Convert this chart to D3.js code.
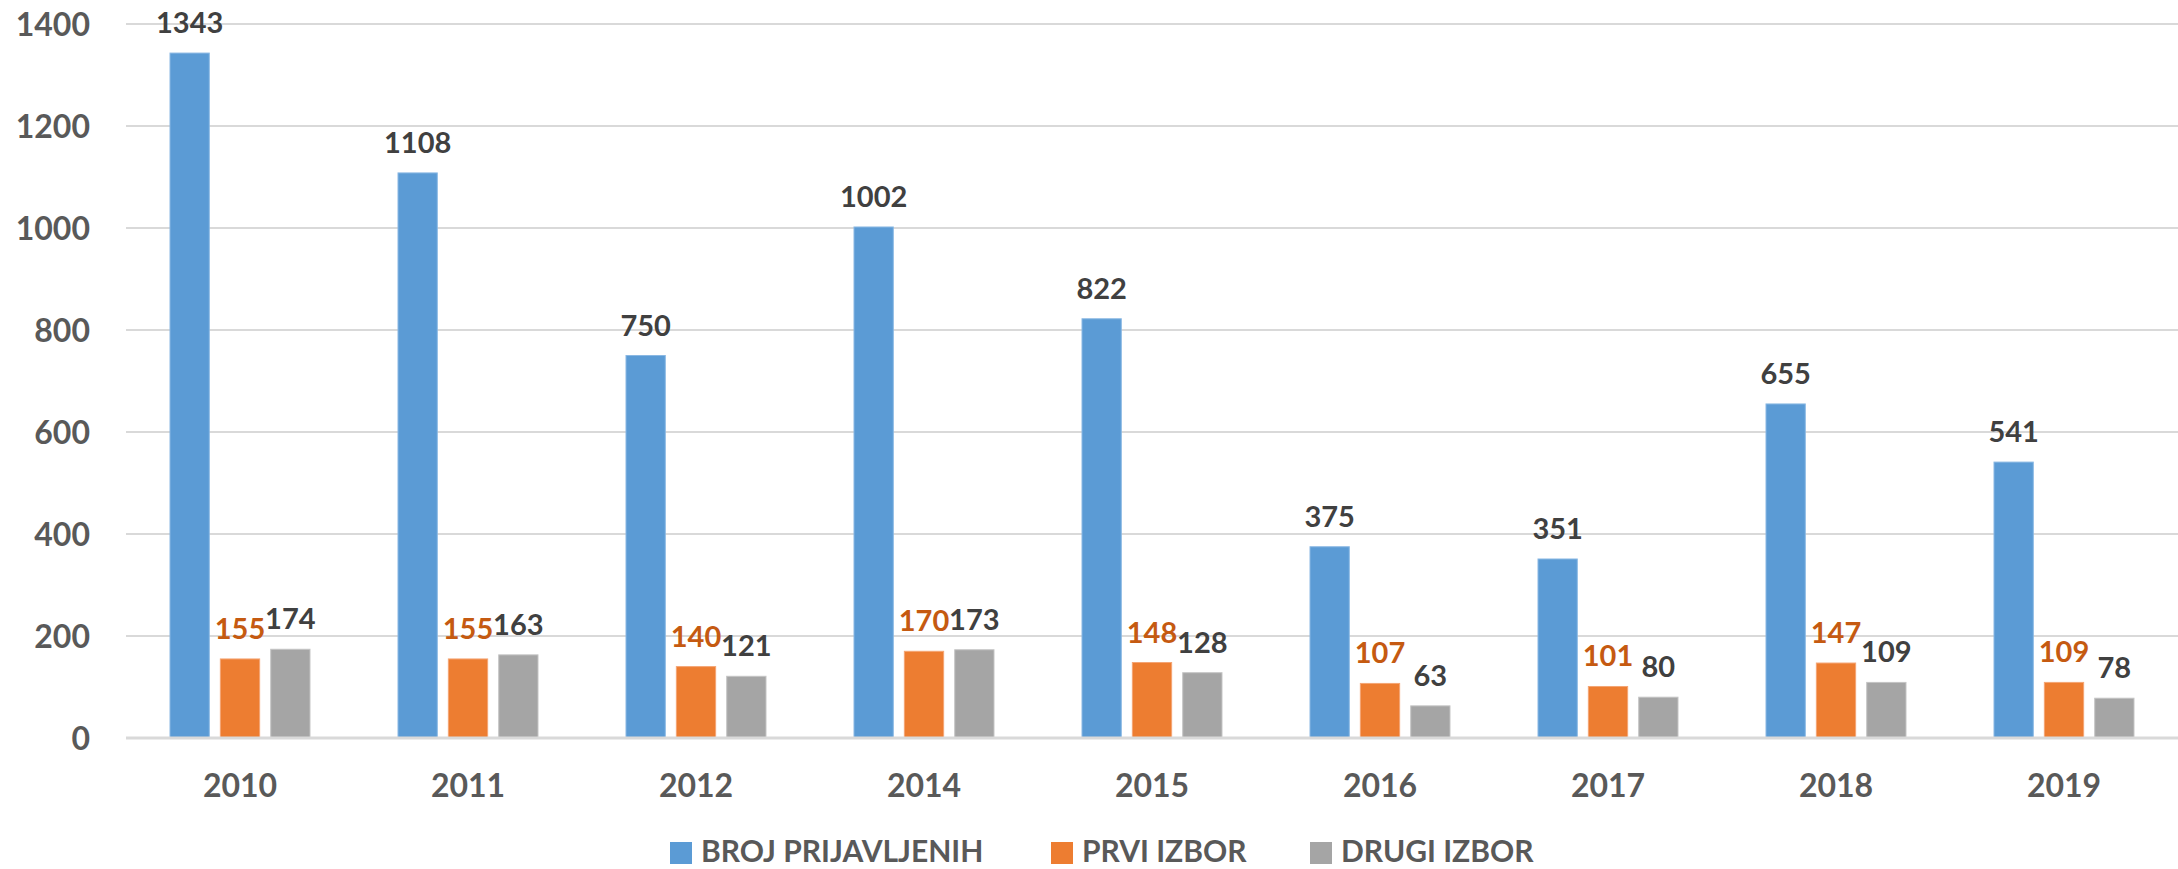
<!DOCTYPE html>
<html>
<head>
<meta charset="utf-8">
<script src="https://cdn.jsdelivr.net/npm/d3@7"></script>
<style>
  html, body { margin: 0; padding: 0; background: #fff; }
  svg { display: block; }
  text { font-family: Lato, "Open Sans", sans-serif; font-weight: bold; }
</style>
</head>
<body>
<svg id="chart" width="2178" height="869"></svg>
<script>
const categories = ["2010", "2011", "2012", "2014", "2015", "2016", "2017", "2018", "2019"];
const seriesNames = ["BROJ PRIJAVLJENIH", "PRVI IZBOR", "DRUGI IZBOR"];
const brojPrijavljenih = [1343, 1108, 750, 1002, 822, 375, 351, 655, 541];
const prviIzbor = [155, 155, 140, 170, 148, 107, 101, 147, 109];
const drugiIzbor = [174, 163, 121, 173, 128, 63, 80, 109, 78];
const yTicks = [0, 200, 400, 600, 800, 1000, 1200, 1400];

const seriesValues = [brojPrijavljenih, prviIzbor, drugiIzbor];
const colors = ["#5b9bd5", "#ed7d31", "#a5a5a5"];
const strokeColors = ["#8ab8e3", "#f4a574", "#c4c4c4"];
const labelColors = ["#404040", "#c55a11", "#404040"];

const svg = d3.select("#chart");
const plot = { left: 126, right: 2178, top: 24, bottom: 738 };

const y = d3.scaleLinear().domain([0, 1400]).range([plot.bottom, plot.top]);
const x0 = d3.scaleBand().domain(categories).range([plot.left, plot.right])
  .paddingInner(0.3816).paddingOuter(0.1908);
const x1 = d3.scaleBand().domain(d3.range(seriesNames.length)).range([0, x0.bandwidth()])
  .paddingInner(0.2).paddingOuter(0);

// gridlines
svg.append("g").selectAll("line").data(yTicks.filter(d => d > 0)).join("line")
  .attr("x1", plot.left).attr("x2", plot.right)
  .attr("y1", d => y(d)).attr("y2", d => y(d))
  .attr("stroke", "#d9d9d9").attr("stroke-width", 2);

// y tick labels
svg.append("g").selectAll("text").data(yTicks).join("text")
  .attr("x", 90).attr("y", d => y(d)).attr("dy", "0.36em")
  .attr("text-anchor", "end").attr("font-size", 32).attr("fill", "#595959")
  .text(d => d);

// bars
const groups = svg.append("g").selectAll("g").data(categories).join("g")
  .attr("transform", d => `translate(${x0(d)},0)`);

groups.selectAll("rect").data((c, i) => seriesValues.map((s, k) => ({ k, v: s[i] }))).join("rect")
  .attr("x", d => x1(d.k) + 0.5).attr("width", x1.bandwidth() - 1)
  .attr("y", d => y(d.v)).attr("height", d => y(0) - y(d.v))
  .attr("fill", d => colors[d.k]).attr("stroke", d => strokeColors[d.k]).attr("stroke-width", 1);

groups.selectAll("text").data((c, i) => seriesValues.map((s, k) => ({ k, v: s[i] }))).join("text")
  .attr("x", d => x1(d.k) + x1.bandwidth() / 2).attr("y", d => y(d.v) - 20)
  .attr("text-anchor", "middle").attr("font-size", 29).attr("fill", d => labelColors[d.k])
  .text(d => d.v);

// baseline axis
svg.append("line").attr("x1", plot.left).attr("x2", plot.right)
  .attr("y1", y(0)).attr("y2", y(0)).attr("stroke", "#d9d9d9").attr("stroke-width", 3);

// x labels
svg.append("g").selectAll("text").data(categories).join("text")
  .attr("x", d => x0(d) + x0.bandwidth() / 2).attr("y", 797)
  .attr("text-anchor", "middle").attr("font-size", 32).attr("fill", "#595959")
  .text(d => d);

// legend
const legendX = [670, 1051, 1310];
const legend = svg.append("g").selectAll("g").data(seriesNames).join("g")
  .attr("transform", (d, i) => `translate(${legendX[i]},842)`);
legend.append("rect").attr("width", 22).attr("height", 22).attr("fill", (d, i) => colors[i]);
legend.append("text").attr("x", 31).attr("y", 20).attr("font-size", 30).attr("fill", "#595959")
  .text(d => d);
</script>
</body>
</html>
